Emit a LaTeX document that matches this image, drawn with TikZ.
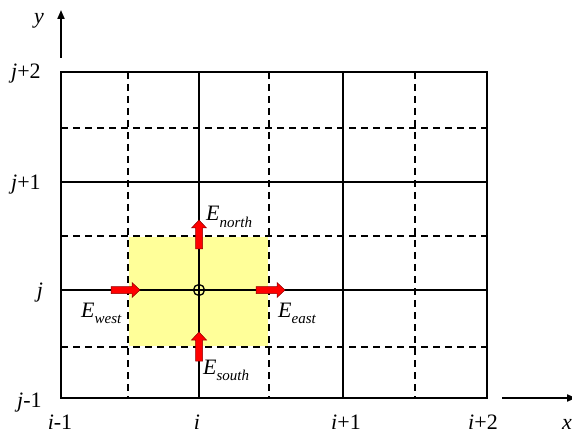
\documentclass[tikz,border=0pt]{standalone}
\usepackage{fontspec}
\setmainfont{Liberation Serif}
\usetikzlibrary{arrows.meta}
\definecolor{paleyellow}{RGB}{255,255,153}
\begin{document}
\begin{tikzpicture}[x=1pt,y=-1pt,
  solidline/.style={line width=1.7pt},
  borderline/.style={line width=1.9pt},
  dashline/.style={line width=1.7pt, dash pattern=on 7pt off 5pt},
  axisline/.style={line width=1.9pt, -{Triangle[length=9pt,width=7pt]}},
  lbl/.style={font=\fontsize{22}{22}\selectfont, inner sep=0pt},
  elbl/.style={font=\fontsize{22}{22}\selectfont\itshape, inner sep=0pt, anchor=base west},
  flux/.style={fill=red, draw=red!55!black, line width=0.5pt},
  fluxarr/.pic={\draw[flux] (0,-3.5) -- (21,-3.5) -- (21,-7.5) -- (29,0) -- (21,7.5) -- (21,3.5) -- (0,3.5) -- cycle;}
]
\useasboundingbox (0,0) rectangle (572,435);
% control volume
\fill[paleyellow] (129,237) rectangle (268,346);
% dashed grid
\foreach \x in {128,269,415} \draw[dashline] (\x,72) -- (\x,398);
\foreach \y in {128,236,347} \draw[dashline] (61,\y) -- (487,\y);
% solid grid
\foreach \x in {199,343} \draw[solidline] (\x,72) -- (\x,398);
\foreach \y in {182,290} \draw[solidline] (61,\y) -- (487,\y);
\draw[borderline] (61,72) rectangle (487,398);
% axes
\coordinate (ys) at (61,58); \coordinate (ye) at (61,10);
\coordinate (xs) at (502,398); \coordinate (xe) at (576,398);
\draw[axisline] (ys) -- (ye);
\draw[axisline] (xs) -- (xe);
\node[lbl, font=\fontsize{22}{22}\selectfont\itshape] (ylab) at (39,21) {y};
\node[lbl, font=\fontsize{22}{22}\selectfont\itshape, anchor=base west] (xlab) at (562,429) {x};
% node point
\node[circle, draw, line width=1.3pt, minimum size=11pt, inner sep=0pt] (P) at (199,290) {};
% flux arrows
\pic at (111,290) {fluxarr};
\pic at (256,290) {fluxarr};
\pic[rotate=90] at (199,249) {fluxarr};
\pic[rotate=90] at (199,361) {fluxarr};
% flux labels
\node[elbl] (En) at (206,221) {E\raisebox{-0.28em}{\fontsize{15}{15}\selectfont north}};
\node[elbl] (Ew) at (81,317) {E\raisebox{-0.28em}{\fontsize{15}{15}\selectfont west}};
\node[elbl] (Ee) at (278,317) {E\raisebox{-0.28em}{\fontsize{15}{15}\selectfont east}};
\node[elbl] (Es) at (203,374) {E\raisebox{-0.28em}{\fontsize{15}{15}\selectfont south}};
% index labels
\node[lbl, anchor=base west] (j2) at (11,79) {\textit{j}+2};
\node[lbl, anchor=base west] (j1) at (11,190) {\textit{j}+1};
\node[lbl, anchor=base] (j0) at (40,297) {\textit{j}};
\node[lbl, anchor=base west] (jm) at (17,407) {\textit{j}-1};
\node[lbl, anchor=base] (im) at (60,429) {\textit{i}-1};
\node[lbl, anchor=base] (i0) at (197,429) {\textit{i}};
\node[lbl, anchor=base] (i1) at (346,429) {\textit{i}+1};
\node[lbl, anchor=base] (i2) at (483,429) {\textit{i}+2};
\end{tikzpicture}
\end{document}
